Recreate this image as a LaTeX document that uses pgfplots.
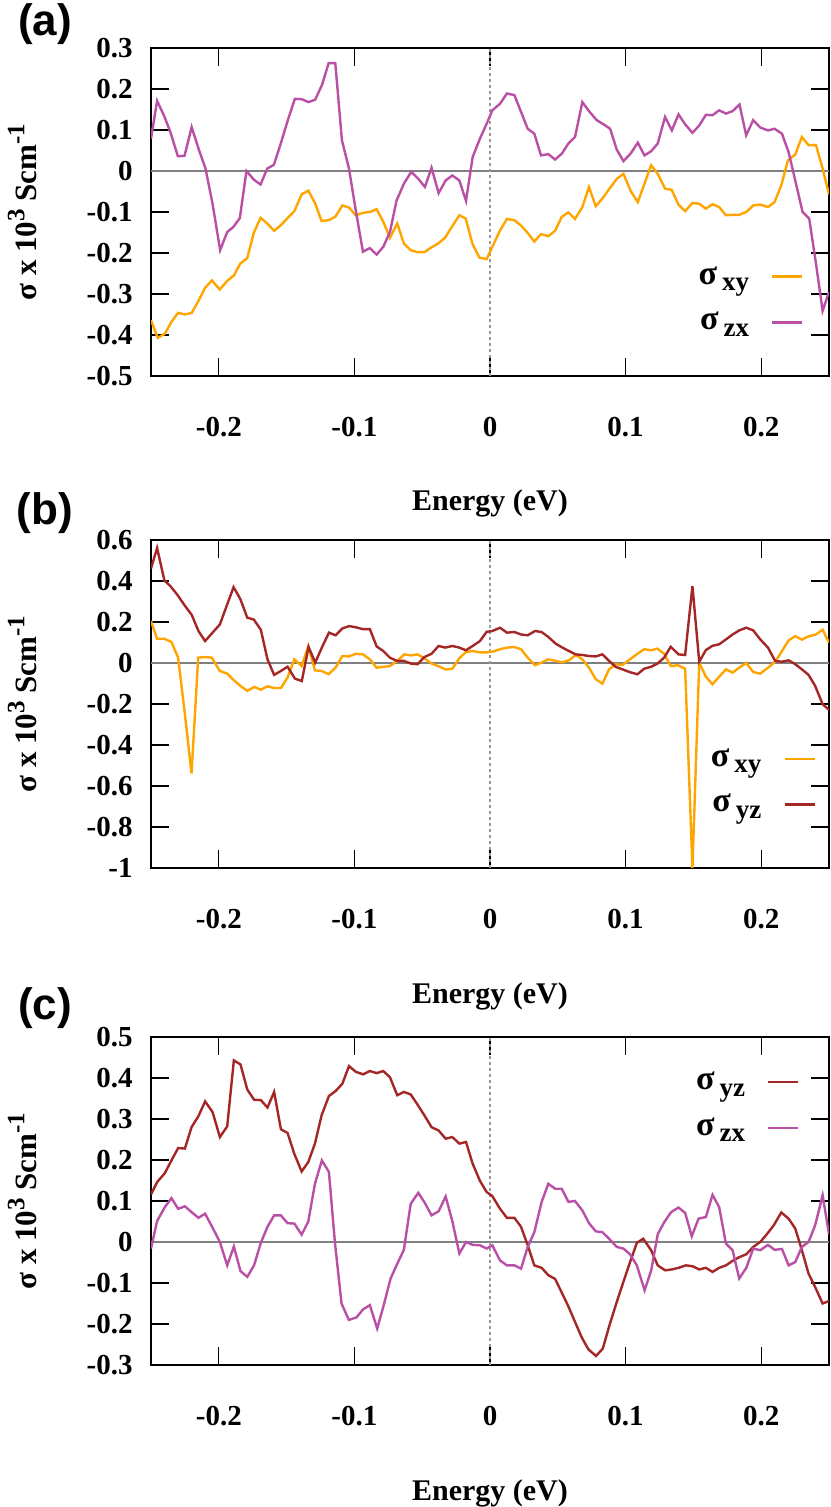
\documentclass[border=0pt]{standalone}
\usepackage{fontspec}
\setmainfont{Liberation Serif}
\newfontfamily\panelfont{Liberation Sans}
\usepackage{pgfplots}
\pgfplotsset{compat=1.18}
\usepackage{pgfplotstable}

\definecolor{cxy}{RGB}{255,165,0}
\definecolor{czx}{RGB}{185,80,165}
\definecolor{cyz}{RGB}{165,38,38}

% panel (a)
\pgfplotstableread{
x y
-0.2500 -0.364
-0.2450 -0.407
-0.2398 -0.397
-0.2349 -0.368
-0.2300 -0.346
-0.2250 -0.350
-0.2199 -0.346
-0.2150 -0.317
-0.2101 -0.285
-0.2051 -0.267
-0.1993 -0.289
-0.1938 -0.268
-0.1889 -0.255
-0.1842 -0.226
-0.1791 -0.213
-0.1742 -0.151
-0.1692 -0.114
-0.1643 -0.128
-0.1591 -0.146
-0.1542 -0.132
-0.1493 -0.115
-0.1443 -0.098
-0.1389 -0.057
-0.1340 -0.048
-0.1291 -0.078
-0.1242 -0.122
-0.1188 -0.120
-0.1139 -0.111
-0.1089 -0.084
-0.1040 -0.089
-0.0991 -0.108
-0.0935 -0.102
-0.0886 -0.100
-0.0836 -0.093
-0.0787 -0.124
-0.0738 -0.163
-0.0684 -0.128
-0.0635 -0.177
-0.0585 -0.193
-0.0536 -0.198
-0.0484 -0.198
-0.0435 -0.187
-0.0383 -0.177
-0.0332 -0.163
-0.0283 -0.137
-0.0226 -0.108
-0.0179 -0.116
-0.0130 -0.177
-0.0079 -0.211
-0.0025 -0.215
0.0017 -0.185
0.0074 -0.145
0.0125 -0.117
0.0180 -0.120
0.0229 -0.133
0.0278 -0.151
0.0327 -0.172
0.0376 -0.154
0.0430 -0.159
0.0480 -0.146
0.0529 -0.112
0.0578 -0.101
0.0627 -0.117
0.0681 -0.088
0.0730 -0.039
0.0780 -0.086
0.0829 -0.067
0.0886 -0.041
0.0935 -0.019
0.0984 -0.007
0.1038 -0.049
0.1090 -0.076
0.1139 -0.031
0.1188 0.014
0.1237 -0.007
0.1291 -0.043
0.1340 -0.046
0.1390 -0.082
0.1439 -0.098
0.1493 -0.078
0.1543 -0.080
0.1592 -0.092
0.1641 -0.081
0.1690 -0.088
0.1740 -0.108
0.1789 -0.107
0.1838 -0.107
0.1890 -0.100
0.1941 -0.084
0.1993 -0.082
0.2050 -0.088
0.2098 -0.076
0.2148 -0.035
0.2197 0.026
0.2251 0.040
0.2300 0.083
0.2349 0.063
0.2404 0.063
0.2453 0.006
0.2500 -0.057
}\axy

\pgfplotstableread{
x y
-0.2500 0.079
-0.2455 0.171
-0.2400 0.132
-0.2357 0.095
-0.2302 0.036
-0.2253 0.037
-0.2200 0.107
-0.2145 0.050
-0.2098 0.006
-0.2046 -0.080
-0.1990 -0.193
-0.1938 -0.149
-0.1894 -0.137
-0.1845 -0.115
-0.1796 0.000
-0.1742 -0.021
-0.1692 -0.033
-0.1643 0.006
-0.1594 0.015
-0.1542 0.068
-0.1490 0.125
-0.1439 0.176
-0.1388 0.175
-0.1338 0.168
-0.1289 0.174
-0.1239 0.210
-0.1190 0.263
-0.1141 0.263
-0.1092 0.075
-0.1040 0.006
-0.0990 -0.096
-0.0937 -0.197
-0.0886 -0.188
-0.0836 -0.204
-0.0787 -0.185
-0.0738 -0.149
-0.0689 -0.072
-0.0635 -0.031
-0.0581 -0.002
-0.0529 -0.019
-0.0480 -0.039
-0.0431 0.008
-0.0379 -0.054
-0.0327 -0.023
-0.0278 -0.011
-0.0226 -0.023
-0.0177 -0.073
-0.0128 0.034
-0.0074 0.079
-0.0025 0.115
0.0017 0.148
0.0074 0.164
0.0125 0.189
0.0180 0.185
0.0229 0.144
0.0278 0.103
0.0327 0.091
0.0376 0.038
0.0430 0.041
0.0480 0.028
0.0529 0.042
0.0578 0.067
0.0627 0.083
0.0681 0.168
0.0730 0.146
0.0787 0.124
0.0836 0.114
0.0886 0.103
0.0935 0.052
0.0984 0.024
0.1036 0.042
0.1090 0.069
0.1139 0.038
0.1188 0.048
0.1237 0.067
0.1291 0.132
0.1341 0.099
0.1390 0.138
0.1439 0.114
0.1493 0.093
0.1543 0.111
0.1592 0.137
0.1641 0.136
0.1690 0.148
0.1740 0.140
0.1789 0.146
0.1840 0.162
0.1889 0.087
0.1941 0.124
0.1993 0.106
0.2050 0.099
0.2098 0.103
0.2153 0.091
0.2202 0.046
0.2251 -0.023
0.2305 -0.100
0.2354 -0.116
0.2404 -0.226
0.2453 -0.341
0.2500 -0.295
}\azx

% panel (b)
\pgfplotstableread{
x y
-0.2500 0.204
-0.2455 0.118
-0.2401 0.118
-0.2349 0.102
-0.2300 0.026
-0.2250 -0.250
-0.2201 -0.539
-0.2152 0.026
-0.2101 0.029
-0.2052 0.026
-0.1992 -0.039
-0.1938 -0.052
-0.1889 -0.084
-0.1840 -0.112
-0.1790 -0.136
-0.1740 -0.117
-0.1690 -0.130
-0.1641 -0.114
-0.1592 -0.122
-0.1542 -0.122
-0.1493 -0.071
-0.1443 0.018
-0.1389 -0.015
-0.1340 0.083
-0.1291 -0.036
-0.1240 -0.039
-0.1191 -0.055
-0.1139 -0.023
-0.1089 0.034
-0.1040 0.032
-0.0989 0.045
-0.0937 0.042
-0.0886 0.018
-0.0836 -0.023
-0.0787 -0.019
-0.0738 -0.015
-0.0684 0.010
-0.0632 0.042
-0.0583 0.037
-0.0534 0.042
-0.0484 0.023
-0.0431 -0.003
-0.0379 -0.016
-0.0327 -0.032
-0.0278 -0.028
-0.0226 0.023
-0.0177 0.054
-0.0128 0.058
-0.0074 0.052
-0.0025 0.052
0.0017 0.055
0.0074 0.067
0.0125 0.075
0.0180 0.078
0.0229 0.067
0.0278 0.026
0.0332 -0.011
0.0381 0.002
0.0430 0.018
0.0485 0.010
0.0534 0.003
0.0583 0.013
0.0632 0.039
0.0681 0.018
0.0730 -0.023
0.0780 -0.079
0.0829 -0.101
0.0878 -0.031
0.0927 -0.006
0.0976 -0.010
0.1033 0.018
0.1087 0.045
0.1137 0.067
0.1186 0.062
0.1235 0.070
0.1284 0.045
0.1333 -0.015
0.1385 -0.011
0.1439 -0.028
0.1493 -1.000
0.1543 0.002
0.1592 -0.067
0.1641 -0.104
0.1690 -0.067
0.1740 -0.031
0.1789 -0.047
0.1838 -0.023
0.1890 0.000
0.1941 -0.044
0.1993 -0.052
0.2050 -0.023
0.2103 0.006
0.2153 0.058
0.2202 0.110
0.2251 0.131
0.2300 0.114
0.2349 0.130
0.2404 0.139
0.2453 0.162
0.2500 0.099
}\bxy

\pgfplotstableread{
x y
-0.2500 0.461
-0.2455 0.561
-0.2401 0.402
-0.2357 0.375
-0.2307 0.334
-0.2253 0.282
-0.2199 0.234
-0.2150 0.156
-0.2101 0.107
-0.2046 0.148
-0.1992 0.188
-0.1943 0.277
-0.1891 0.370
-0.1842 0.313
-0.1790 0.221
-0.1742 0.212
-0.1690 0.162
-0.1641 0.018
-0.1592 -0.058
-0.1542 -0.039
-0.1493 -0.018
-0.1439 -0.076
-0.1388 -0.088
-0.1338 0.078
-0.1289 0.002
-0.1240 0.075
-0.1188 0.148
-0.1139 0.135
-0.1087 0.169
-0.1038 0.180
-0.0989 0.174
-0.0937 0.165
-0.0886 0.165
-0.0836 0.081
-0.0787 0.058
-0.0738 0.026
-0.0686 0.010
-0.0635 0.010
-0.0583 -0.003
-0.0534 -0.006
-0.0484 0.029
-0.0431 0.045
-0.0379 0.083
-0.0330 0.075
-0.0278 0.083
-0.0226 0.075
-0.0177 0.062
-0.0128 0.083
-0.0074 0.107
-0.0025 0.152
0.0017 0.156
0.0074 0.172
0.0125 0.148
0.0180 0.151
0.0229 0.139
0.0278 0.135
0.0332 0.156
0.0381 0.151
0.0430 0.127
0.0485 0.094
0.0534 0.075
0.0583 0.058
0.0632 0.042
0.0681 0.039
0.0730 0.034
0.0780 0.032
0.0829 0.042
0.0878 0.010
0.0927 -0.019
0.0976 -0.031
0.1033 -0.045
0.1087 -0.055
0.1137 -0.028
0.1186 -0.019
0.1235 -0.003
0.1284 0.026
0.1333 0.079
0.1390 0.042
0.1439 0.039
0.1493 0.375
0.1543 0.006
0.1592 0.063
0.1641 0.084
0.1690 0.091
0.1740 0.115
0.1789 0.139
0.1838 0.159
0.1890 0.172
0.1941 0.159
0.1993 0.115
0.2050 0.075
0.2103 0.010
0.2153 0.006
0.2202 0.013
0.2251 -0.006
0.2300 -0.031
0.2349 -0.058
0.2398 -0.112
0.2453 -0.201
0.2500 -0.229
}\byz

% panel (c)
\pgfplotstableread{
x y
-0.2500 0.116
-0.2455 0.146
-0.2398 0.168
-0.2349 0.199
-0.2300 0.229
-0.2250 0.228
-0.2201 0.280
-0.2150 0.307
-0.2101 0.343
-0.2046 0.317
-0.1992 0.256
-0.1938 0.282
-0.1889 0.443
-0.1840 0.433
-0.1790 0.372
-0.1740 0.347
-0.1690 0.346
-0.1641 0.328
-0.1592 0.366
-0.1542 0.275
-0.1493 0.266
-0.1443 0.215
-0.1389 0.172
-0.1340 0.195
-0.1291 0.240
-0.1242 0.309
-0.1188 0.356
-0.1139 0.368
-0.1089 0.386
-0.1040 0.429
-0.0989 0.415
-0.0935 0.409
-0.0886 0.417
-0.0836 0.412
-0.0787 0.417
-0.0738 0.402
-0.0684 0.358
-0.0635 0.366
-0.0585 0.360
-0.0536 0.336
-0.0484 0.309
-0.0431 0.280
-0.0379 0.272
-0.0327 0.252
-0.0278 0.256
-0.0226 0.240
-0.0177 0.244
-0.0128 0.191
-0.0074 0.149
-0.0025 0.122
0.0017 0.112
0.0074 0.081
0.0125 0.059
0.0180 0.059
0.0229 0.037
0.0278 -0.008
0.0327 -0.057
0.0381 -0.063
0.0430 -0.081
0.0480 -0.090
0.0530 -0.124
0.0578 -0.157
0.0627 -0.195
0.0677 -0.233
0.0726 -0.262
0.0782 -0.278
0.0832 -0.260
0.0881 -0.203
0.0935 -0.146
0.0984 -0.097
0.1033 -0.049
0.1083 -0.002
0.1130 0.008
0.1188 -0.020
0.1237 -0.057
0.1291 -0.069
0.1340 -0.067
0.1390 -0.063
0.1444 -0.057
0.1493 -0.059
0.1543 -0.067
0.1592 -0.063
0.1641 -0.073
0.1690 -0.063
0.1740 -0.057
0.1789 -0.046
0.1838 -0.037
0.1890 -0.030
0.1941 -0.012
0.1993 0.000
0.2044 0.020
0.2093 0.041
0.2148 0.072
0.2202 0.057
0.2251 0.033
0.2300 -0.020
0.2349 -0.077
0.2398 -0.110
0.2453 -0.150
0.2500 -0.144
}\cyz

\pgfplotstableread{
x y
-0.2500 -0.016
-0.2455 0.051
-0.2398 0.085
-0.2349 0.107
-0.2300 0.081
-0.2250 0.087
-0.2201 0.073
-0.2150 0.059
-0.2101 0.069
-0.2046 0.035
-0.1992 0.000
-0.1938 -0.057
-0.1889 -0.011
-0.1840 -0.071
-0.1790 -0.085
-0.1740 -0.057
-0.1690 -0.002
-0.1641 0.037
-0.1592 0.065
-0.1542 0.065
-0.1493 0.046
-0.1443 0.045
-0.1389 0.018
-0.1340 0.050
-0.1291 0.142
-0.1240 0.199
-0.1188 0.171
-0.1144 0.000
-0.1095 -0.150
-0.1041 -0.190
-0.0985 -0.184
-0.0935 -0.164
-0.0886 -0.154
-0.0832 -0.211
-0.0787 -0.158
-0.0733 -0.089
-0.0684 -0.053
-0.0635 -0.019
-0.0585 0.093
-0.0529 0.120
-0.0480 0.095
-0.0431 0.065
-0.0379 0.075
-0.0327 0.111
-0.0278 0.051
-0.0226 -0.028
-0.0177 0.000
-0.0128 -0.007
-0.0074 -0.008
-0.0025 -0.016
0.0017 -0.008
0.0074 -0.045
0.0125 -0.057
0.0180 -0.057
0.0229 -0.065
0.0278 -0.012
0.0327 0.024
0.0381 0.098
0.0430 0.142
0.0480 0.130
0.0529 0.130
0.0578 0.098
0.0627 0.100
0.0681 0.077
0.0730 0.046
0.0780 0.026
0.0829 0.024
0.0878 0.008
0.0935 -0.012
0.0984 -0.016
0.1033 -0.030
0.1083 -0.057
0.1140 -0.118
0.1189 -0.069
0.1237 0.019
0.1286 0.049
0.1336 0.073
0.1390 0.084
0.1439 0.071
0.1488 0.014
0.1538 0.057
0.1592 0.061
0.1641 0.115
0.1690 0.085
0.1740 -0.004
0.1789 -0.020
0.1838 -0.089
0.1890 -0.063
0.1941 -0.016
0.1993 -0.020
0.2050 -0.007
0.2098 -0.019
0.2153 -0.017
0.2202 -0.057
0.2251 -0.049
0.2300 -0.012
0.2349 0.000
0.2398 0.041
0.2453 0.114
0.2500 0.019
}\czx

% legend text: large sigma with a lowered subscript
\newcommand{\sig}[1]{{\fontsize{17}{17}\selectfont σ}\hspace{2.5pt}\raisebox{-0.55ex}{#1}}
\newcommand{\up}[1]{\raisebox{0.85ex}{\fontsize{12.5}{12.5}\selectfont #1}}

\pgfplotsset{
  panel/.style={
    scale only axis,
    width=339pt, height=164pt,
    xmin=-0.25, xmax=0.25,
    xtick={-0.2,-0.1,0,0.1,0.2},
    xticklabels={-0.2,-0.1,0,0.1,0.2},
    tick align=inside,
    major tick length=9pt,
    every tick/.style={black, line width=0.6pt},
    axis line style={line width=0.75pt},
    tick label style={font=\fontsize{14.5}{16}\selectfont\bfseries},
    xticklabel style={anchor=center, yshift=-25.5pt},
    yticklabel style={anchor=east, inner sep=0pt, xshift=-9pt},
    label style={font=\fontsize{15}{17}\selectfont\bfseries},
    xlabel={Energy (eV)},
    xlabel style={at={(axis description cs:0.5,-0.39)}, anchor=center},
    ylabel={σ x 10\up{3} Scm\up{-1}},
    ylabel style={at={(axis description cs:-0.19,0.5)}, anchor=center,
      font=\fontsize{15.5}{17}\selectfont\bfseries},
    legend plot pos=right,
    legend cell align=right,
    legend style={draw=none, fill=none, font=\fontsize{13.5}{14}\selectfont\bfseries,
      row sep=8.5pt, anchor=north east,
      /tikz/every odd column/.append style={column sep=9pt}},
    legend image code/.code={\draw[#1] (0pt,0pt) -- (15pt,0pt);},
    every axis plot/.append style={line width=1.2pt},
  },
}

\begin{document}
\begin{tikzpicture}
\useasboundingbox (0,0) rectangle (415pt,753.5pt);

\begin{axis}[panel, at={(75.5pt,565.5pt)}, anchor=south west,
  ymin=-0.5, ymax=0.3,
  ytick={-0.5,-0.4,-0.3,-0.2,-0.1,0,0.1,0.2,0.3},
  yticklabels={-0.5,-0.4,-0.3,-0.2,-0.1,0,0.1,0.2,0.3},
  legend style={at={(axis description cs:0.972,0.36)}}]
\draw[gray, line width=0.6pt] (axis cs:-0.25,0) -- (axis cs:0.25,0);
\draw[gray!80, line width=0.6pt, dash pattern=on 1.5pt off 1.5pt] (axis cs:0,-0.5) -- (axis cs:0,0.3);
\addplot[cxy] table {\axy};
\addlegendentry{\sig{xy}}
\addplot[czx] table {\azx};
\addlegendentry{\sig{zx}}
\end{axis}

\begin{axis}[panel, at={(75.5pt,319.5pt)}, anchor=south west,
  ymin=-1, ymax=0.6,
  ytick={-1,-0.8,-0.6,-0.4,-0.2,0,0.2,0.4,0.6},
  yticklabels={-1,-0.8,-0.6,-0.4,-0.2,0,0.2,0.4,0.6},
  legend style={at={(axis description cs:0.99,0.39)}}]
\draw[gray, line width=0.6pt] (axis cs:-0.25,0) -- (axis cs:0.25,0);
\draw[gray!80, line width=0.6pt, dash pattern=on 1.5pt off 1.5pt] (axis cs:0,-1) -- (axis cs:0,0.6);
\addplot[cxy] table {\bxy};
\addlegendentry{\sig{xy}}
\addplot[cyz] table {\byz};
\addlegendentry{\sig{yz}}
\end{axis}

\begin{axis}[panel, at={(75.5pt,71pt)}, anchor=south west,
  ymin=-0.3, ymax=0.5,
  ytick={-0.3,-0.2,-0.1,0,0.1,0.2,0.3,0.4,0.5},
  yticklabels={-0.3,-0.2,-0.1,0,0.1,0.2,0.3,0.4,0.5},
  legend style={at={(axis description cs:0.966,0.92)}}]
\draw[gray, line width=0.6pt] (axis cs:-0.25,0) -- (axis cs:0.25,0);
\draw[gray!80, line width=0.6pt, dash pattern=on 1.5pt off 1.5pt] (axis cs:0,-0.3) -- (axis cs:0,0.5);
\addplot[cyz] table {\cyz};
\addlegendentry{\sig{yz}}
\addplot[czx] table {\czx};
\addlegendentry{\sig{zx}}
\end{axis}

\node[font=\panelfont\bfseries\fontsize{22}{24}\selectfont] at (22.5pt,741.5pt) {(a)};
\node[font=\panelfont\bfseries\fontsize{22}{24}\selectfont] at (22.5pt,497pt) {(b)};
\node[font=\panelfont\bfseries\fontsize{22}{24}\selectfont] at (22.5pt,249.5pt) {(c)};
\end{tikzpicture}
\end{document}
